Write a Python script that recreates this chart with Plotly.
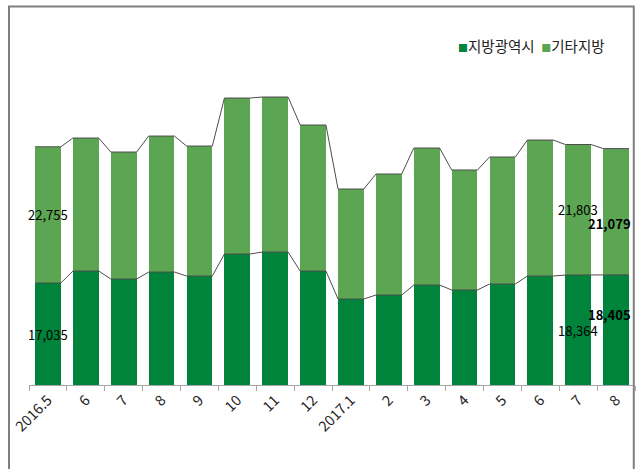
import plotly.graph_objects as go

# 월별 거래량 (건)
months = ["2016.5", "6", "7", "8", "9", "10", "11", "12",
          "2017.1", "2", "3", "4", "5", "6", "7", "8"]
metro = [17035, 19040, 17700, 18870, 18200, 21880, 22210, 19040,
         14360, 15030, 16700, 15870, 16870, 18200, 18364, 18405]
other = [22755, 22210, 21210, 22710, 21710, 26050, 25890, 24380,
         18370, 20210, 22880, 20040, 21210, 22710, 21803, 21079]

C_METRO = "#00833a"
C_OTHER = "#5ca552"
FONT = "Noto Sans CJK KR"
BAR_W = 0.68

x = list(range(len(months)))
total = [m + o for m, o in zip(metro, other)]

fig = go.Figure()
fig.add_trace(go.Bar(x=x, y=metro, name="지방광역시", marker_color=C_METRO,
                     width=BAR_W, marker_line_width=0))
fig.add_trace(go.Bar(x=x, y=other, name="기타지방", marker_color=C_OTHER,
                     width=BAR_W, marker_line_width=0))

# series lines between the bar tops (like Excel)
for ys in (metro, total):
    lx, ly = [], []
    for i, v in zip(x, ys):
        lx += [i - BAR_W / 2, i + BAR_W / 2]
        ly += [v, v]
    fig.add_trace(go.Scatter(x=lx, y=ly, mode="lines", showlegend=False,
                             line=dict(color="#4d4d4d", width=1), hoverinfo="skip"))

# data labels only on first and last two bars
label_idx = [0, 14, 15]
for i in label_idx:
    bold = i == 15
    dx = -7 if bold else 0
    for txt, ymid, dy in ((f"{other[i]:,}", metro[i] + other[i] / 2, -12 if bold else 0),
                          (f"{metro[i]:,}", metro[i] / 2, 15 if bold else 0)):
        fig.add_annotation(x=i, y=ymid, text=f"<b>{txt}</b>" if bold else txt,
                           showarrow=False, xshift=dx, yshift=dy,
                           font=dict(family=FONT, size=13, color="#000000"))

# legend as text with small coloured squares
sq = "<span style='color:{};font-size:10px'>■</span>"
fig.add_annotation(xref="paper", yref="paper", x=0.953, y=0.897,
                   xanchor="right", yanchor="middle", showarrow=False,
                   text=sq.format(C_METRO) + "지방광역시  " + sq.format(C_OTHER) + "기타지방",
                   font=dict(family=FONT, size=14.5, color="#222222"))

# unit note, mostly cut off at the top edge
fig.add_annotation(xref="paper", yref="paper", x=0.96, y=1.008,
                   xanchor="right", yanchor="bottom", showarrow=False,
                   text="(단위 : 건)", font=dict(family=FONT, size=16, color="#000000"))

# outer frame
fig.add_shape(type="rect", xref="paper", yref="paper",
              x0=-0.033, x1=0.998, y0=-0.3, y1=0.999,
              line=dict(color="#7f7f7f", width=2), fillcolor="rgba(0,0,0,0)")

fig.update_layout(
    width=640, height=469,
    barmode="stack", bargap=0.32,
    showlegend=False,
    plot_bgcolor="white", paper_bgcolor="white",
    margin=dict(l=29, r=5, t=6, b=84),
    font=dict(family=FONT, size=13, color="#000000"),
    xaxis=dict(
        range=[-0.5, 15.5], tickmode="array", tickvals=x, ticktext=months,
        tickangle=-45, ticks="", showgrid=False, zeroline=False,
        showline=True, linecolor="#a6a6a6", linewidth=1,
        tickfont=dict(family=FONT, size=14.5, color="#222222"),
        minor=dict(tickmode="array", tickvals=[i - 0.5 for i in range(17)],
                   ticks="outside", ticklen=5, tickcolor="#a6a6a6", showgrid=False),
    ),
    yaxis=dict(range=[0, 63300], visible=False, showgrid=False, zeroline=False),
)

# page body has a default 8px margin; drop it so the chart fills the window
fig.write_html("out.html", config={"displayModeBar": False},
               post_script="document.body.style.margin='0';")
